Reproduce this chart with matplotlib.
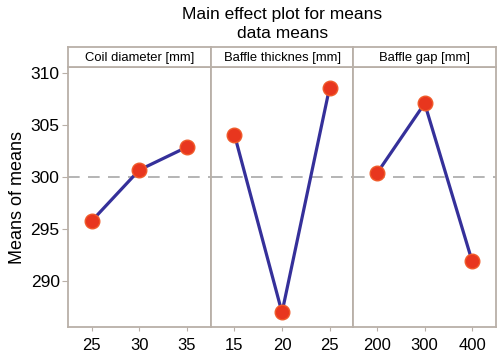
import matplotlib
matplotlib.use("Agg")
import matplotlib.pyplot as plt

plt.rcParams["font.family"] = ["Liberation Sans", "DejaVu Sans"]

factors = ["Coil diameter [mm]", "Baffle thicknes [mm]", "Baffle gap [mm]"]
levels = [["25", "30", "35"], ["15", "20", "25"], ["200", "300", "400"]]
means = [[295.8, 300.7, 302.9], [304.1, 287.0, 308.6], [300.4, 307.1, 291.9]]
overall_mean = 300.0
y_ticks = [290, 295, 300, 305, 310]

W, H = 497, 354
fig = plt.figure(figsize=(W / 100, H / 100), dpi=100)
frame_c = "#b9b0a8"
left, right = 68 / W, 496 / W
bottom, top = 1 - 327 / H, 1 - 67 / H
strip_h = 20 / H
pw = (right - left) / 3

for i in range(3):
    ax = fig.add_axes([left + i * pw, bottom, pw, top - bottom])
    x = list(range(3))
    ax.axhline(overall_mean, color="#a8a8a8", lw=1.2, ls=(0, (7, 5)), zorder=1)
    ax.plot(x, means[i], color="#35309a", lw=2.3, zorder=2)
    ax.plot(x, means[i], ls="none", marker="o", ms=10.5, color="#e8361e",
            mec="#f05a2a", zorder=3)
    ax.set_xlim(-0.5, 2.5)
    ax.set_ylim(285.6, 310.6)
    ax.set_xticks(x)
    ax.set_xticklabels(levels[i], fontsize=12)
    ax.tick_params(axis="x", length=3, color=frame_c, pad=5)
    for s in ax.spines.values():
        s.set_color(frame_c)
        s.set_linewidth(1.3)
    if i == 0:
        ax.set_yticks(y_ticks)
        ax.set_yticklabels([str(t) for t in y_ticks], fontsize=12.5)
        ax.tick_params(axis="y", length=4, color=frame_c, pad=2)
        ax.set_ylabel("Means of means", fontsize=13, labelpad=3)
    else:
        ax.set_yticks([])
    sax = fig.add_axes([left + i * pw, top, pw, strip_h])
    sax.set_xticks([]); sax.set_yticks([])
    for s in sax.spines.values():
        s.set_color(frame_c)
        s.set_linewidth(1.3)
    sax.text(0.5, 0.45, factors[i], ha="center", va="center", fontsize=9.4,
             transform=sax.transAxes)

fig.text(0.568, 1 - 15 / H, "Main effect plot for means", ha="center", va="center", fontsize=12.5)
fig.text(0.568, 1 - 33 / H, "data means", ha="center", va="center", fontsize=12.5)

fig.savefig("out.png", dpi=100)
